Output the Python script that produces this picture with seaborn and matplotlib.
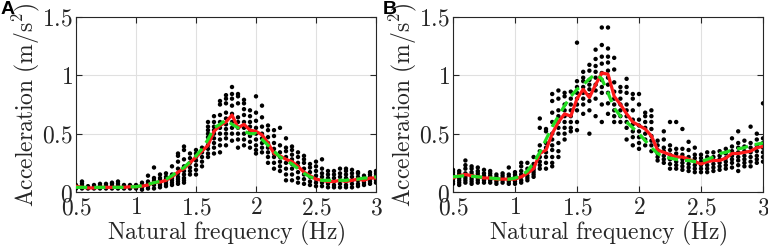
import numpy as np
import pandas as pd
import matplotlib
matplotlib.use("Agg")
import matplotlib.pyplot as plt
import seaborn as sns

freqs = [round(0.5 + 0.05 * i, 2) for i in range(51)]

dots_a = [
    [0.03,0.04,0.05,0.06],[0.03,0.05,0.07,0.09],[0.03,0.04,0.05],[0.03,0.04,0.06],
    [0.03,0.05,0.07],[0.03,0.05,0.07],[0.03,0.05,0.07,0.08],[0.03,0.05,0.07,0.09],
    [0.03,0.04,0.06],[0.03,0.04,0.06],[0.03,0.04,0.05,0.06],[0.02,0.04,0.05,0.06,0.08],
    [0.03,0.05,0.07,0.09,0.14],[0.03,0.06,0.08,0.1,0.12,0.21],[0.04,0.06,0.08,0.1,0.12,0.15],
    [0.05,0.07,0.09,0.11,0.13,0.16],[0.06,0.08,0.1,0.12,0.14,0.15,0.22],
    [0.07,0.09,0.11,0.13,0.16,0.2,0.26,0.31,0.33],[0.08,0.1,0.12,0.15,0.18,0.22,0.28,0.36,0.39],
    [0.15,0.18,0.21,0.25,0.29,0.33],[0.15,0.19,0.23,0.27,0.3,0.33,0.36],
    [0.22,0.26,0.3,0.34,0.38],[0.3,0.33,0.37,0.4,0.43,0.47,0.5,0.53,0.56,0.6],
    [0.33,0.38,0.42,0.46,0.5,0.53,0.56,0.6,0.65],[0.34,0.4,0.45,0.5,0.55,0.6,0.66,0.75,0.78],
    [0.4,0.46,0.5,0.54,0.58,0.63,0.68,0.76,0.8,0.83],[0.44,0.5,0.55,0.6,0.67,0.74,0.8,0.84,0.9],
    [0.38,0.45,0.5,0.55,0.6,0.64,0.76,0.82,0.84],[0.4,0.45,0.5,0.55,0.6,0.66,0.71,0.76,0.79],
    [0.38,0.43,0.48,0.52,0.56,0.6,0.65,0.7],[0.33,0.36,0.4,0.45,0.5,0.55,0.61,0.68,0.82],
    [0.34,0.38,0.42,0.46,0.5,0.56,0.64,0.74],[0.25,0.3,0.34,0.38,0.42,0.47,0.53,0.57],
    [0.2,0.25,0.3,0.33,0.37,0.42,0.48,0.53],[0.18,0.22,0.26,0.3,0.34,0.4,0.55],
    [0.1,0.15,0.2,0.25,0.3,0.35,0.38,0.46],[0.1,0.15,0.2,0.24,0.28,0.32,0.36,0.39],
    [0.08,0.12,0.17,0.22,0.25,0.3,0.34],[0.07,0.11,0.15,0.2,0.25,0.28,0.31],
    [0.06,0.09,0.13,0.17,0.21,0.24],[0.05,0.08,0.11,0.14,0.18,0.22,0.26],
    [0.05,0.08,0.1,0.13,0.16,0.2,0.28],[0.04,0.07,0.09,0.12,0.15,0.18],
    [0.04,0.06,0.09,0.12,0.15,0.18],[0.04,0.07,0.1,0.13,0.16,0.2],
    [0.04,0.06,0.09,0.12,0.15,0.18,0.2],[0.04,0.07,0.1,0.13,0.16,0.19],
    [0.05,0.07,0.1,0.13,0.16,0.17],[0.06,0.08,0.1,0.12,0.14],
    [0.07,0.09,0.11,0.13,0.15,0.17],[0.08,0.1,0.12,0.14,0.16,0.18],
]

red_a = [0.05,0.04,0.035,0.035,0.04,0.04,0.04,0.04,0.04,0.045,0.045,0.05,0.06,0.08,0.085,
         0.1,0.13,0.17,0.2,0.25,0.3,0.35,0.4,0.52,0.57,0.6,0.66,0.55,0.58,0.53,0.52,0.49,
         0.42,0.33,0.31,0.28,0.26,0.22,0.17,0.14,0.11,0.1,0.09,0.09,0.1,0.09,0.1,0.11,0.1,0.12,0.12]
green_a = [0.04,0.04,0.04,0.04,0.04,0.04,0.04,0.04,0.04,0.045,0.045,0.055,0.065,0.08,0.09,
           0.11,0.14,0.18,0.21,0.26,0.31,0.37,0.45,0.55,0.58,0.62,0.58,0.55,0.52,0.5,0.5,0.45,
           0.4,0.35,0.3,0.27,0.24,0.2,0.16,0.13,0.11,0.1,0.1,0.1,0.1,0.1,0.11,0.11,0.12,0.12,0.13]

dots_b = [
    [0.07,0.09,0.11,0.13,0.15,0.17,0.19],[0.06,0.08,0.1,0.12,0.14,0.16,0.18],
    [0.08,0.1,0.12,0.14,0.16,0.2,0.23,0.27],[0.07,0.09,0.11,0.13,0.15,0.17,0.2,0.22],
    [0.08,0.1,0.12,0.14,0.16,0.18,0.21],[0.08,0.1,0.12,0.14,0.16,0.19],
    [0.08,0.1,0.12,0.14,0.16,0.18],[0.07,0.09,0.11,0.13,0.15],[0.08,0.1,0.12,0.14,0.16],
    [0.07,0.09,0.11,0.13,0.15,0.21],[0.07,0.09,0.11,0.13,0.15,0.17],
    [0.08,0.1,0.13,0.15,0.18,0.22,0.25],[0.1,0.12,0.14,0.17,0.2,0.25],
    [0.13,0.15,0.17,0.19,0.21,0.24,0.3],[0.2,0.23,0.26,0.3,0.35,0.4,0.55,0.63],
    [0.2,0.25,0.3,0.34,0.38,0.42,0.52,0.54],[0.22,0.25,0.3,0.36,0.4,0.45,0.5,0.6,0.68,0.78,0.84],
    [0.3,0.35,0.42,0.5,0.55,0.6,0.65,0.7,0.8,0.87],[0.45,0.5,0.55,0.6,0.65,0.7,0.75,0.82,0.85],
    [0.52,0.55,0.6,0.65,0.7,0.75,0.8,0.86],[0.53,0.6,0.7,0.75,0.8,0.85,0.9,0.95,1.28],
    [0.67,0.75,0.8,0.85,0.9,0.95,0.98,1.03],[0.5,0.7,0.78,0.83,0.88,0.92,0.96,1.04,1.09],
    [0.65,0.8,0.87,0.92,0.98,1.03,1.08,1.14,1.22],[0.6,0.75,0.85,0.9,0.96,1.02,1.1,1.16,1.26,1.41],
    [0.67,0.76,0.85,0.92,0.98,1.04,1.11,1.16,1.23,1.41],[0.6,0.65,0.7,0.75,0.8,0.86,0.94,1.05,1.15],
    [0.6,0.65,0.7,0.75,0.8,0.86,0.9],[0.45,0.55,0.6,0.65,0.7,0.75,0.85,0.9,0.97],
    [0.4,0.47,0.52,0.58,0.62,0.7,0.8,0.84],[0.37,0.42,0.47,0.52,0.57,0.62,0.75,0.84],
    [0.4,0.45,0.5,0.55,0.6,0.65,0.68],[0.35,0.4,0.44,0.48,0.54,0.6,0.65,0.7],
    [0.27,0.3,0.33,0.36,0.4,0.44],[0.25,0.28,0.31,0.35,0.38,0.45,0.52],
    [0.2,0.24,0.28,0.32,0.36,0.4,0.6],[0.2,0.23,0.26,0.3,0.33,0.37,0.6],
    [0.19,0.22,0.25,0.28,0.32,0.37,0.54],[0.18,0.21,0.24,0.27,0.3,0.36,0.43],
    [0.17,0.2,0.23,0.26,0.29,0.32,0.38],[0.17,0.2,0.23,0.26,0.29,0.32],
    [0.17,0.2,0.23,0.26,0.3,0.34],[0.18,0.21,0.24,0.27,0.3,0.34],
    [0.19,0.22,0.25,0.28,0.31,0.35],[0.2,0.23,0.26,0.29,0.33,0.37],
    [0.21,0.25,0.28,0.31,0.35,0.39,0.46],[0.18,0.23,0.27,0.3,0.34,0.38,0.42,0.52],
    [0.22,0.25,0.28,0.31,0.35,0.39,0.44],[0.22,0.26,0.3,0.34,0.38,0.42,0.56],
    [0.25,0.28,0.31,0.35,0.4,0.45,0.5],[0.26,0.3,0.34,0.38,0.42,0.46,0.76],
]

red_b = [0.12,0.14,0.15,0.14,0.13,0.12,0.12,0.11,0.11,0.11,0.11,0.13,0.16,0.2,0.33,0.36,0.5,
         0.6,0.67,0.65,0.8,0.88,0.81,0.92,1.02,1.01,0.82,0.75,0.67,0.6,0.57,0.54,0.48,0.36,
         0.34,0.32,0.3,0.3,0.28,0.26,0.24,0.26,0.27,0.27,0.29,0.33,0.33,0.34,0.35,0.38,0.39]
green_b = [0.13,0.135,0.14,0.135,0.13,0.125,0.12,0.115,0.11,0.11,0.12,0.14,0.18,0.25,0.34,0.45,
           0.56,0.65,0.74,0.82,0.88,0.92,0.97,1.01,0.97,0.85,0.72,0.65,0.6,0.55,0.5,0.44,0.38,
           0.33,0.3,0.29,0.28,0.27,0.27,0.26,0.26,0.28,0.3,0.33,0.34,0.36,0.37,0.38,0.4,0.41,0.42]

xticks = [0.5, 1, 1.5, 2, 2.5, 3]
xtick_labels = ["0.5", "1", "1.5", "2", "2.5", "3"]
yticks = [0, 0.5, 1, 1.5]
ytick_labels = ["0", "0.5", "1", "1.5"]
panel_labels = ["A", "B"]

palette = {"mean": "#ff1a1a", "fit": "#22dd22"}
dash_map = {"mean": "", "fit": (3.5, 2.2)}


def dots_frame(dots):
    xs, ys = [], []
    for f, vals in zip(freqs, dots):
        xs.extend([f] * len(vals))
        ys.extend(vals)
    return pd.DataFrame({"f": xs, "a": ys})


sns.set_theme(style="white")
plt.rcParams["mathtext.fontset"] = "cm"
plt.rcParams["font.family"] = ["DejaVu Serif"]

fig = plt.figure(figsize=(7.68, 2.48), dpi=100)
ax_a = fig.add_axes([76 / 768, 1 - 192 / 248, 300 / 768, 175 / 248])
ax_b = fig.add_axes([453 / 768, 1 - 192 / 248, 310 / 768, 175 / 248])

panels = [(ax_a, dots_a, red_a, green_a), (ax_b, dots_b, red_b, green_b)]
label_x = [1 / 768, 383 / 768]
FS = 17

for i, (ax, dots, red, green) in enumerate(panels):
    df = dots_frame(dots)
    sns.scatterplot(data=df, x="f", y="a", ax=ax, color="black", s=10,
                    edgecolor="none", linewidth=0, zorder=3)
    lines = pd.DataFrame({
        "f": freqs + freqs,
        "a": list(red) + list(green),
        "kind": ["mean"] * len(freqs) + ["fit"] * len(freqs),
    })
    sns.lineplot(data=lines, x="f", y="a", hue="kind", style="kind",
                 hue_order=["mean", "fit"], style_order=["mean", "fit"],
                 palette=palette, dashes=dash_map, lw=2.3, ax=ax,
                 legend=False, zorder=4, sort=False)
    ax.set_xlim(0.5, 3)
    ax.set_ylim(0, 1.5)
    ax.set_xticks(xticks)
    ax.set_xticklabels(["$\\mathrm{" + t + "}$" for t in xtick_labels])
    ax.set_yticks(yticks)
    ax.set_yticklabels(["$\\mathrm{" + t + "}$" for t in ytick_labels])
    ax.tick_params(axis="both", labelsize=FS, direction="in", length=4, width=0.8,
                   colors="#262626", top=True, right=True, bottom=True, left=True)
    ax.tick_params(axis="x", pad=3)
    ax.tick_params(axis="y", pad=2)
    ax.grid(True, color="#e0e0e0", lw=0.8)
    ax.set_axisbelow(True)
    for sp in ax.spines.values():
        sp.set_visible(True)
        sp.set_color("#262626")
        sp.set_linewidth(0.8)
    ax.set_xlabel(r"$\mathrm{Natural\ frequency\ (Hz)}$", fontsize=FS, labelpad=0)
    ax.set_ylabel(r"$\mathrm{Acceleration\ (m/s^2)}$", fontsize=FS, labelpad=0)
    fig.text(label_x[i], 0.995, panel_labels[i], fontsize=14, fontweight="bold",
             family=["Liberation Sans"], ha="left", va="top", color="black", zorder=10)

fig.savefig("out.png", dpi=100)
